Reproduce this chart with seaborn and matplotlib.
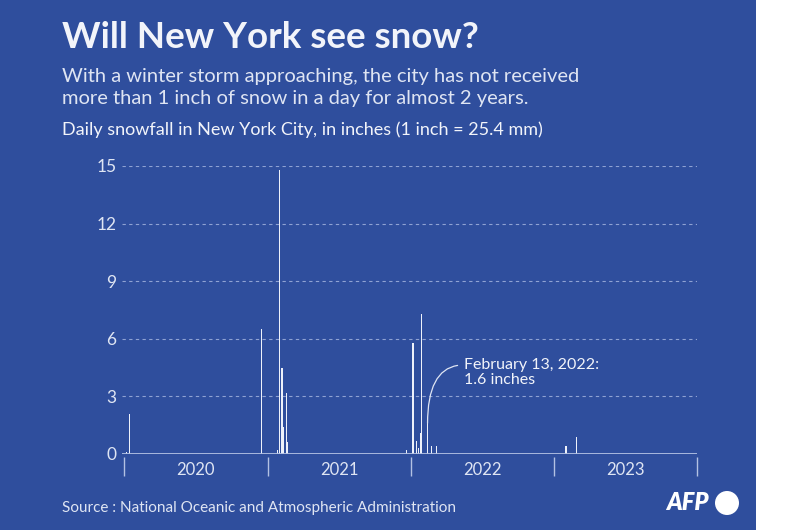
"""Daily snowfall in New York City, 2020-2023 (AFP style spike chart)."""

import numpy as np
import pandas as pd
import seaborn as sns
import matplotlib.pyplot as plt
import matplotlib.transforms as mtransforms
from matplotlib.patches import Rectangle, Ellipse

# days with snowfall (inches)
snow_dates = [
    "2020-01-07", "2020-01-16", "2020-12-16",
    "2021-01-26", "2021-01-31", "2021-02-01", "2021-02-07", "2021-02-11",
    "2021-02-18", "2021-02-22",
    "2021-12-22", "2022-01-07", "2022-01-16", "2022-01-20", "2022-01-25",
    "2022-01-29", "2022-02-13", "2022-02-24", "2022-03-07",
    "2023-02-01", "2023-02-27",
]
snow_inches = [
    0.1, 2.1, 6.5,
    0.2, 0.3, 14.8, 4.5, 1.4,
    3.2, 0.6,
    0.2, 5.8, 0.7, 0.3, 1.1,
    7.3, 1.6, 0.4, 0.4,
    0.4, 0.9,
]
years = ["2020", "2021", "2022", "2023"]
y_ticks = [0, 3, 6, 9, 12, 15]

BG = "#2f4e9d"
FG = "#f2f4fa"
SOFT = "#dfe5f3"
GRID = "#8fa2d3"
BASE = "#b3c1e3"
FONT = "Lato"

origin = pd.Timestamp("2020-01-01")
df = pd.DataFrame({"date": pd.to_datetime(snow_dates), "inches": snow_inches})
df["day"] = (df["date"] - origin).dt.days

year_starts = [(pd.Timestamp(f"{y}-01-01") - origin).days for y in years] + [
    (pd.Timestamp("2024-01-01") - origin).days
]
year_mids = [(a + b) / 2 for a, b in zip(year_starts[:-1], year_starts[1:])]

sns.set_theme(style="white")
plt.rcParams["font.family"] = [FONT, "DejaVu Sans"]

fig = plt.figure(figsize=(8, 5.3), dpi=100, facecolor="white")
fig.patches.append(Rectangle((0, 0), 756 / 800, 1, transform=fig.transFigure,
                             facecolor=BG, edgecolor="none", zorder=-10))

ax = fig.add_axes([122 / 800, 76 / 530, 575 / 800, 288 / 530])
ax.set_facecolor("none")

# bars ~3 days wide; seaborn scales width by the smallest gap between days
min_gap = np.diff(np.unique(df["day"])).min()
sns.barplot(data=df, x="day", y="inches", native_scale=True, orient="x",
            errorbar=None, color="#eef1fa", saturation=1,
            width=3.0 / min_gap, linewidth=0, ax=ax)

ax.set_xlim(-5, year_starts[-1])
ax.set_ylim(0, 15)
ax.set_xlabel("")
ax.set_ylabel("")
for s in ax.spines.values():
    s.set_visible(False)

ax.set_yticks(y_ticks)
ax.set_yticklabels([str(t) for t in y_ticks])
ax.tick_params(axis="y", length=0, pad=4, labelsize=12.5, labelcolor=SOFT)
ax.set_xticks([])
ax.yaxis.grid(True, linestyle=(0, (3, 3)), color=GRID, linewidth=0.8)
ax.xaxis.grid(False)
ax.set_axisbelow(True)

ax.axhline(0, color=BASE, linewidth=1.3, zorder=1)

trans = mtransforms.blended_transform_factory(ax.transData, ax.transAxes)
ax.vlines(year_starts, -0.075, -0.012, transform=trans, clip_on=False,
          color=BASE, linewidth=1)
for mid, label in zip(year_mids, years):
    ax.text(mid, -0.056, label, transform=trans, ha="center", va="center",
            fontsize=12, color=SOFT)

feb13 = (pd.Timestamp("2022-02-13") - origin).days
ax.annotate("February 13, 2022:\n1.6 inches", xy=(feb13, 1.6),
            xytext=(866, 4.25), ha="left", va="center", fontsize=11.5,
            color=FG, linespacing=1.05,
            arrowprops=dict(arrowstyle="-", color=SOFT, lw=0.9,
                            connectionstyle="angle3,angleA=0,angleB=90",
                            relpos=(0, 0.76), shrinkA=2, shrinkB=0))

fig.text(62 / 800, 1 - 38 / 530, "Will New York see snow?", fontsize=26.5,
         fontweight="bold", color=FG, va="center", ha="left")
fig.text(62 / 800, 1 - 87.5 / 530,
         "With a winter storm approaching, the city has not received\n"
         "more than 1 inch of snow in a day for almost 2 years.",
         fontsize=14.5, fontweight="normal", color=SOFT, va="center", ha="left",
         linespacing=1.3)
fig.text(62 / 800, 1 - 130 / 530,
         "Daily snowfall in New York City, in inches (1 inch = 25.4 mm)",
         fontsize=13, color=FG, va="center", ha="left")
fig.text(62 / 800, 1 - 508 / 530,
         "Source : National Oceanic and Atmospheric Administration",
         fontsize=11, fontweight="normal", color=SOFT, va="center", ha="left")

# AFP logo
fig.text(687 / 800, 1 - 503 / 530, "AFP", fontsize=17, fontweight="heavy",
         fontstyle="italic", color="white", va="center", ha="center")
fig.patches.append(Ellipse((727 / 800, 1 - 503 / 530), 24 / 800, 24 / 530,
                           transform=fig.transFigure, facecolor="white",
                           edgecolor="none"))

fig.savefig("out.png", dpi=100, facecolor=fig.get_facecolor())
